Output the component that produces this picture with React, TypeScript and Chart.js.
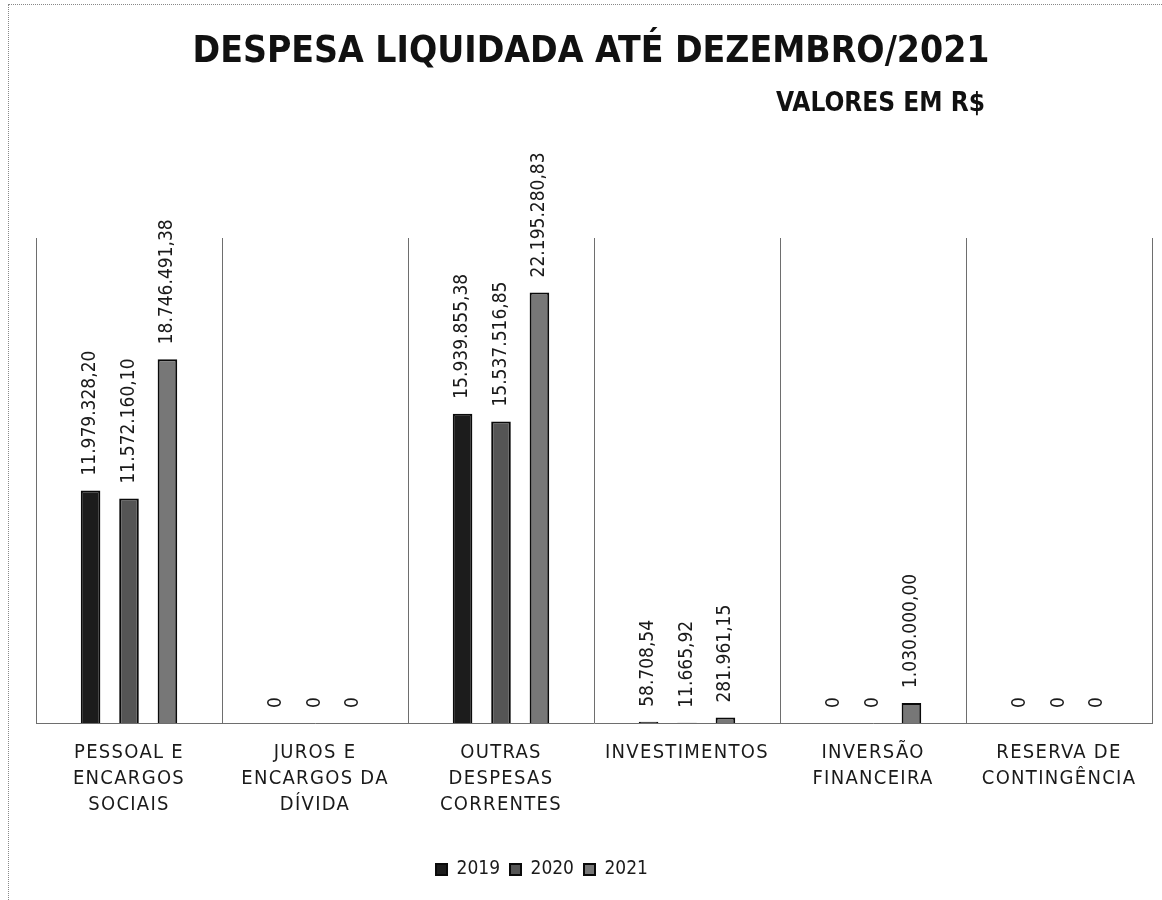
import React, { useEffect, useRef } from 'react';
import { Chart, registerables } from 'chart.js';

Chart.register(...registerables);

const categories: string[][] = [
  ['PESSOAL E', 'ENCARGOS', 'SOCIAIS'],
  ['JUROS E', 'ENCARGOS DA', 'DÍVIDA'],
  ['OUTRAS', 'DESPESAS', 'CORRENTES'],
  ['INVESTIMENTOS'],
  ['INVERSÃO', 'FINANCEIRA'],
  ['RESERVA DE', 'CONTINGÊNCIA'],
];
const seriesLabels = ['2019', '2020', '2021'];
const values2019 = [11979328.2, 0, 15939855.38, 58708.54, 0, 0];
const values2020 = [11572160.1, 0, 15537516.85, 11665.92, 0, 0];
const values2021 = [18746491.38, 0, 22195280.83, 281961.15, 1030000.0, 0];
const yMax = 25000000;
const titleText = 'DESPESA LIQUIDADA ATÉ DEZEMBRO/2021';
const subtitleText = 'VALORES EM R$';

const NARROW = "'Liberation Sans Narrow', 'DejaVu Sans Condensed', 'Liberation Sans', sans-serif";

function fmt(v: number): string {
  if (v === 0) return '0';
  const [i, d] = v.toFixed(2).split('.');
  return i.replace(/\B(?=(\d{3})+(?!\d))/g, '.') + ',' + d;
}

const valueLabels = {
  id: 'valueLabels',
  afterDatasetsDraw(chart: any) {
    const ctx = chart.ctx;
    ctx.save();
    ctx.letterSpacing = '0px';
    ctx.font = `19px ${NARROW}`;
    ctx.fillStyle = '#1a1a1a';
    ctx.textAlign = 'left';
    ctx.textBaseline = 'middle';
    chart.data.datasets.forEach((ds: any, di: number) => {
      const meta = chart.getDatasetMeta(di);
      meta.data.forEach((bar: any, i: number) => {
        const v = ds.data[i];
        const { x, y } = bar.getProps(['x', 'y'], true);
        ctx.save();
        ctx.translate(x, y - 15);
        ctx.rotate(-Math.PI / 2);
        ctx.fillText(fmt(v), 0, 0);
        ctx.restore();
      });
    });
    ctx.restore();
    // spaced letters for the category labels drawn after datasets
    ctx.letterSpacing = '1.3px';
  },
  afterDraw(chart: any) {
    const ctx = chart.ctx;
    ctx.letterSpacing = '0px';
    ctx.save();
    ctx.fillStyle = '#111';
    ctx.textAlign = 'center';
    ctx.textBaseline = 'alphabetic';
    ctx.font = `bold 37px ${NARROW}`;
    ctx.fillText(titleText, 591, 62);
    ctx.textAlign = 'right';
    ctx.font = `bold 26px ${NARROW}`;
    ctx.fillText(subtitleText, 985, 111);
    ctx.restore();
  },
};

const legendShift = {
  id: 'legendShift',
  afterLayout(chart: any) {
    const lg = chart.legend;
    if (lg) {
      lg.left -= 52;
      lg.right -= 52;
    }
  },
};

export default function App() {
  const ref = useRef<HTMLCanvasElement | null>(null);
  useEffect(() => {
    document.body.style.margin = '0';
    if (!ref.current) return;
    const chart = new Chart(ref.current, {
      type: 'bar',
      data: {
        labels: categories,
        datasets: [
          { label: seriesLabels[0], data: values2019, backgroundColor: '#1c1c1c', borderColor: '#0a0a0a', borderWidth: 2 },
          { label: seriesLabels[1], data: values2020, backgroundColor: '#555555', borderColor: '#0a0a0a', borderWidth: 2 },
          { label: seriesLabels[2], data: values2021, backgroundColor: '#777777', borderColor: '#0a0a0a', borderWidth: 2 },
        ],
      },
      options: {
        responsive: false,
        animation: false,
        layout: { padding: { top: 238, left: 36, right: 10, bottom: 11 } },
        datasets: { bar: { categoryPercentage: 0.62, barPercentage: 0.51 } },
        scales: {
          x: {
            offset: true,
            grid: { display: true, offset: true, color: '#6e6e6e', lineWidth: 1, drawTicks: false },
            border: { display: true, color: '#6e6e6e', width: 1 },
            ticks: {
              z: 1,
              autoSkip: false,
              maxRotation: 0,
              minRotation: 0,
              padding: 17,
              color: '#1a1a1a',
              font: { family: NARROW, size: 20, lineHeight: 1.3 },
            },
            afterFit(scale: any) {
              scale.height += 15;
            },
          },
          y: {
            display: false,
            min: 0,
            max: yMax,
          },
        },
        plugins: {
          legend: {
            position: 'bottom',
            labels: {
              boxWidth: 11,
              boxHeight: 11,
              padding: 10,
              color: '#1a1a1a',
              font: { family: NARROW, size: 19 },
            },
          },
          tooltip: { enabled: false },
          title: { display: false },
        },
      },
      plugins: [valueLabels, legendShift],
    });
    return () => chart.destroy();
  }, []);
  return (
    <div style={{ position: 'relative', width: 1162, height: 900 }}>
      <div
        style={{
          position: 'absolute',
          top: 4,
          left: 8,
          right: 0,
          bottom: 0,
          borderTop: '1px dotted #888',
          borderLeft: '1px dotted #888',
          pointerEvents: 'none',
        }}
      />
      <canvas ref={ref} width={1162} height={900} style={{ display: 'block', position: 'relative' }} />
    </div>
  );
}
